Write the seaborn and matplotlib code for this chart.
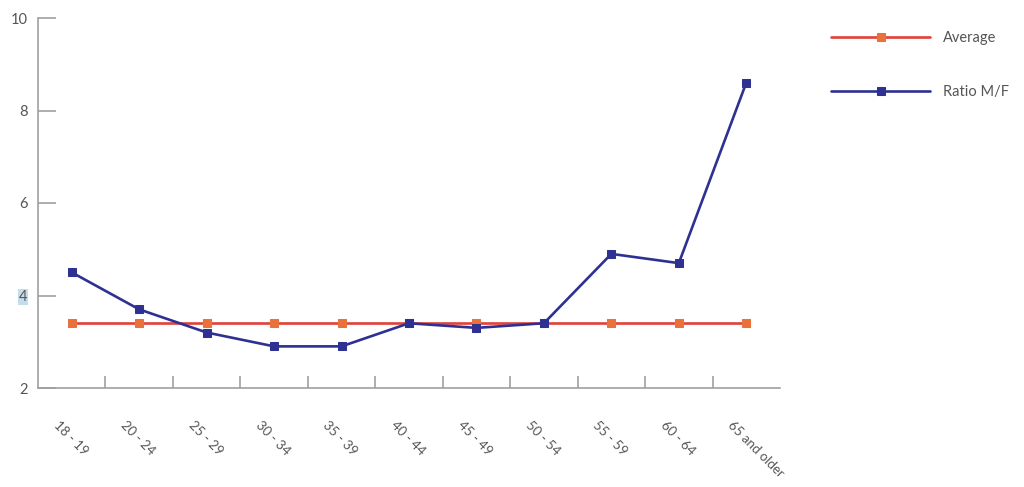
import numpy as np
import pandas as pd
import matplotlib
matplotlib.use("Agg")
import matplotlib.pyplot as plt
import seaborn as sns

age_groups = ["18 - 19", "20 - 24", "25 - 29", "30 - 34", "35 - 39", "40 - 44",
              "45 - 49", "50 - 54", "55 - 59", "60 - 64", "65 and older"]
ratio_mf = [4.5, 3.7, 3.2, 2.9, 2.9, 3.4, 3.3, 3.4, 4.9, 4.7, 8.6]
average = [3.4] * len(age_groups)

y_ticks = [2, 4, 6, 8, 10]

RED = "#e2403a"
ORANGE = "#ea7139"
BLUE = "#2e3192"
GREY = "#a0a0a0"
TEXT = "#555555"

sns.set_style("white")
plt.rcParams['font.family'] = ['Lato', 'DejaVu Sans']

df = pd.DataFrame({"group": age_groups, "pos": np.arange(len(age_groups)),
                   "Average": average, "Ratio M/F": ratio_mf})

fig = plt.figure(figsize=(10.24, 4.87), dpi=100)
ax = fig.add_axes([38 / 1024, 1 - 388 / 487, (780 - 38) / 1024, (388 - 18) / 487])

sns.lineplot(data=df, x="pos", y="Average", ax=ax, color=RED, linewidth=1.9,
             marker="s", markersize=6, markerfacecolor=ORANGE, markeredgecolor=ORANGE,
             label="Average")
sns.lineplot(data=df, x="pos", y="Ratio M/F", ax=ax, color=BLUE, linewidth=1.9,
             marker="s", markersize=6, markerfacecolor=BLUE, markeredgecolor=BLUE,
             label="Ratio M/F")

ax.set_xlim(-0.5, len(age_groups) - 0.5)
ax.set_ylim(2, 10)
ax.set_xlabel("")
ax.set_ylabel("")

for side in ["top", "right"]:
    ax.spines[side].set_visible(False)
for side in ["left", "bottom"]:
    ax.spines[side].set_color(GREY)
    ax.spines[side].set_linewidth(1.2)

ax.set_yticks(y_ticks)
ax.set_yticklabels([str(t) for t in y_ticks], color=TEXT, fontsize=10.5)
ax.tick_params(axis="y", left=True, direction="in", length=13, width=1.2,
               color=GREY, pad=7.5)
# the "4" label sits on a pale blue highlight in the original
for lbl in ax.get_yticklabels():
    if lbl.get_text() == "4":
        lbl.set_bbox(dict(facecolor="#c5dcec", edgecolor="none", pad=0.5))

# category labels without marks, boundary ticks between categories
ax.set_xticks(np.arange(len(age_groups)))
ax.set_xticklabels(age_groups, rotation=-45, ha="left", va="top",
                   rotation_mode="anchor", color=TEXT, fontsize=9.5)
ax.tick_params(axis="x", which="major", bottom=True, length=0, pad=22)
ax.set_xticks(np.arange(0.5, len(age_groups) - 0.5, 1), minor=True)
ax.tick_params(axis="x", which="minor", bottom=True, direction="in", length=9,
               width=1.2, color=GREY)
offset = matplotlib.transforms.ScaledTranslation(-12 / 100, 0, fig.dpi_scale_trans)
for lbl in ax.get_xticklabels():
    lbl.set_transform(lbl.get_transform() + offset)

ax.legend(loc="upper left", bbox_to_anchor=(818 / 1024, 1 - 18 / 487),
          bbox_transform=fig.transFigure, frameon=False, handlelength=6.8,
          handletextpad=0.9, labelspacing=2.75, fontsize=10.5, labelcolor=TEXT)

fig.savefig("out.png", dpi=100)
